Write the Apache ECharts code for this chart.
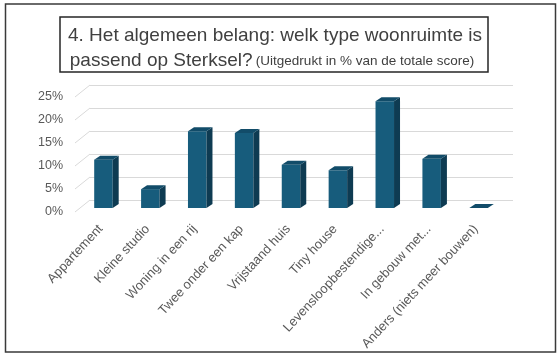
<!DOCTYPE html>
<html><head><meta charset="utf-8">
<script src="https://cdn.jsdelivr.net/npm/echarts@6/dist/echarts.min.js"></script>
<style>html,body{margin:0;padding:0;background:#fff}#c{width:560px;height:356px}</style>
</head><body><div id="c"></div>
<script>
const categories = ['Appartement','Kleine studio','Woning in een rij','Twee onder een kap','Vrijstaand huis','Tiny house','Levensloopbestendige...','In gebouw met...','Anders (niets meer bouwen)'];
const values = [10.5, 4.1, 16.7, 16.3, 9.4, 8.2, 23.2, 10.7, 0];
const yTicks = [0, 5, 10, 15, 20, 25];
const titleLine1 = '4. Het algemeen belang: welk type woonruimte is';
const titleLine2a = 'passend op Sterksel?';
const titleLine2b = '(Uitgedrukt in % van de totale score)';

const chart = echarts.init(document.getElementById('c'), null, {renderer: 'canvas'});
const DX = 6, DY = -4, BW = 18.5;
const FONT = '"Liberation Sans", Arial, sans-serif';
const option = {
  animation: false,
  grid: [
    {left: 80, right: 58, top: 93, bottom: 148},
    {left: 90, right: 47, top: 85, bottom: 156},
    {left: 90, right: 47, top: 97, bottom: 144}
  ],
  xAxis: [
    {gridIndex: 0, type: 'category', data: categories,
     axisLine: {show: false}, axisTick: {show: false}, splitLine: {show: false},
     axisLabel: {rotate: 47, margin: 16, padding: [0, 4, 0, 0], color: '#595959', fontSize: 13, fontFamily: FONT, interval: 0}},
    {gridIndex: 1, type: 'value', min: 0, max: 1, show: false},
    {gridIndex: 2, type: 'value', min: 0, max: 1, show: false}
  ],
  yAxis: [
    {gridIndex: 0, type: 'value', min: 0, max: 25, interval: 5, show: false},
    {gridIndex: 1, type: 'value', min: 0, max: 25, interval: 5,
     axisLine: {show: false}, axisTick: {show: false}, axisLabel: {show: false},
     splitLine: {show: true, lineStyle: {color: '#d9d9d9', width: 1}}},
    {gridIndex: 2, type: 'value', min: 0, max: 25, interval: 5,
     axisLine: {show: false}, axisTick: {show: false}, splitLine: {show: false},
     axisLabel: {formatter: '{value}%', margin: 27, color: '#595959', fontSize: 12.5, fontFamily: FONT}}
  ],
  series: [
    {type: 'custom', xAxisIndex: 1, yAxisIndex: 1, silent: true,
     data: yTicks.map(v => [0, v]),
     renderItem: (p, api) => {
       const c = api.coord([0, api.value(1)]);
       return {type: 'line', shape: {x1: c[0], y1: c[1], x2: c[0] - 15, y2: c[1] + 12},
               style: {stroke: '#d9d9d9', lineWidth: 1}};
     }},
    {type: 'custom', xAxisIndex: 0, yAxisIndex: 0,
     data: values.map((v, i) => [i, v]),
     renderItem: (p, api) => {
       const t = api.coord([api.value(0), api.value(1)]);
       const b = api.coord([api.value(0), 0]);
       const xl = t[0] - BW / 2, xr = t[0] + BW / 2, yt = t[1], yb = b[1];
       return {type: 'group', children: [
         {type: 'rect', shape: {x: xl, y: yt, width: BW, height: yb - yt}, style: {fill: '#175C7C'}},
         {type: 'polygon', shape: {points: [[xr, yt], [xr + DX, yt + DY], [xr + DX, yb + DY], [xr, yb]]}, style: {fill: '#0E3B52'}},
         {type: 'polygon', shape: {points: [[xl, yt], [xl + DX, yt + DY], [xr + DX, yt + DY], [xr, yt]]}, style: {fill: '#124C69'}}
       ]};
     }}
  ],
  graphic: [
    {type: 'rect', z: 0, shape: {x: 5.5, y: 4, width: 550, height: 348},
     style: {fill: 'none', stroke: '#3a3a3a', lineWidth: 1.5}},
    {type: 'rect', z: 10, shape: {x: 60, y: 17, width: 428, height: 55},
     style: {fill: '#fff', stroke: '#262626', lineWidth: 1.5}},
    {type: 'text', z: 11, x: 275, y: 36,
     style: {text: titleLine1, font: '19px ' + FONT, fill: '#404040', align: 'center', verticalAlign: 'middle'}},
    {type: 'text', z: 11, x: 272, y: 61,
     style: {text: '{a|' + titleLine2a + '} {b|' + titleLine2b + '}', align: 'center', verticalAlign: 'middle',
       rich: {a: {fontSize: 19, fontFamily: FONT, fill: '#404040'}, b: {fontSize: 13.5, fontFamily: FONT, fill: '#404040'}}}}
  ]
};
chart.setOption(option);
</script></body></html>
